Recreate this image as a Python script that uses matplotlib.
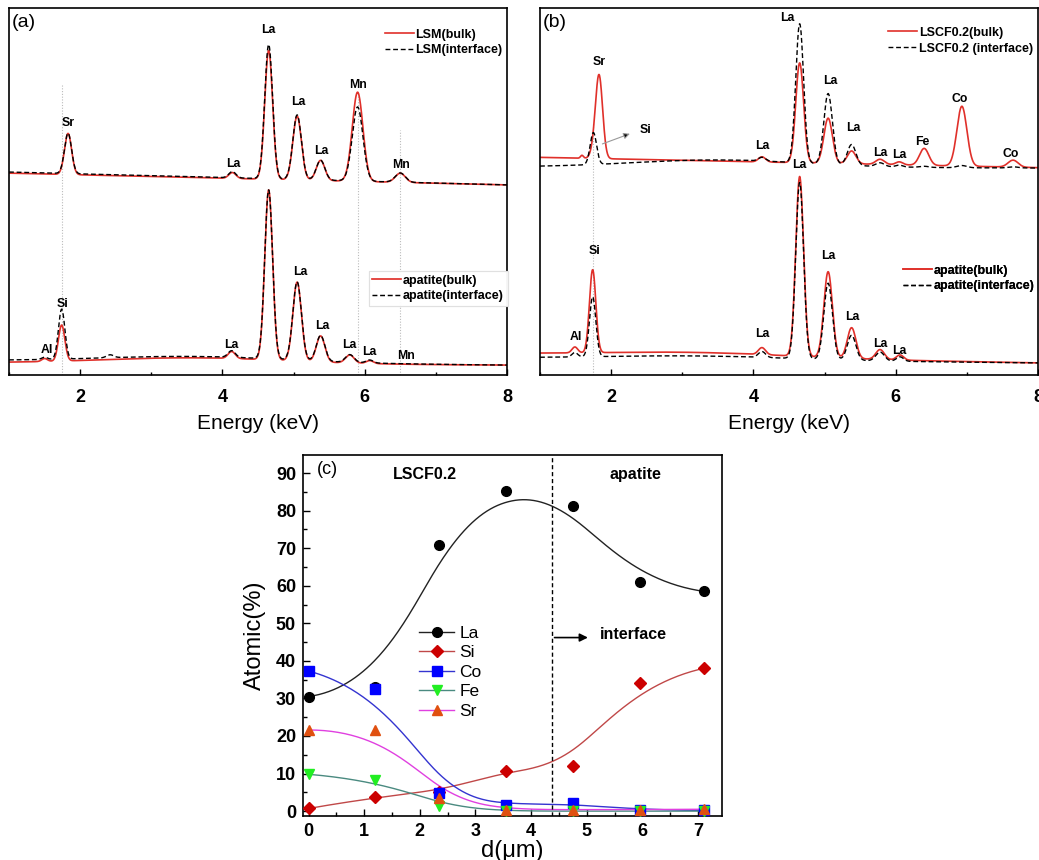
import numpy as np
import matplotlib
matplotlib.use("Agg")
import matplotlib.pyplot as plt
from matplotlib.lines import Line2D
from matplotlib.ticker import MultipleLocator

plt.rcParams['font.family'] = ['Liberation Sans', 'DejaVu Sans']

# ---------------- EDS spectra (a), (b) ----------------
# each trace: linear baseline (at 1 keV, at 8 keV) + peaks (energy keV, height, sigma)
a_top_E = [1.83, 4.14, 4.65, 5.05, 5.38, 5.90, 6.50]
a_top_sig = [0.05, 0.05, 0.055, 0.06, 0.06, 0.075, 0.07]
lsm_bulk_h = [11.2, 1.6, 35.1, 17.4, 5.5, 24.3, 2.5]
lsm_intf_h = [11.0, 1.7, 36.6, 17.6, 5.4, 20.2, 2.5]
lsm_bulk_base = [55.0, 51.8]
lsm_intf_base = [55.3, 51.8]

a_bot_E = [1.50, 1.74, 2.42, 3.60, 4.13, 4.65, 5.05, 5.38, 5.79, 6.07]
a_bot_sig = [0.04, 0.045, 0.05, 1.3, 0.05, 0.055, 0.06, 0.06, 0.06, 0.05]
apa_bulk_a_h = [0.8, 9.8, 0.0, 1.6, 1.9, 46.3, 21.5, 7.1, 2.2, 0.8]
apa_intf_a_h = [0.6, 13.6, 0.8, 1.6, 1.8, 46.0, 21.3, 7.0, 2.1, 0.8]
apa_bulk_a_base = [3.3, 2.7]
apa_intf_a_base = [3.9, 2.7]

b_top_E = [1.59, 1.75, 1.83, 3.50, 4.12, 4.65, 5.05, 5.38, 5.78, 6.05, 6.40, 6.93, 7.65]
b_top_sig = [0.02, 0.045, 0.05, 1.2, 0.05, 0.055, 0.06, 0.06, 0.06, 0.05, 0.065, 0.07, 0.07]
lscf_bulk_h = [0.8, 1.5, 22.6, 0.0, 1.4, 27.2, 12.3, 3.5, 1.4, 0.8, 4.6, 16.3, 1.9]
lscf_intf_h = [0.0, 8.7, 0.0, 2.0, 1.0, 37.9, 19.3, 5.7, 1.0, 0.5, 0.3, 0.6, 0.3]
lscf_bulk_base = [59.3, 56.5]
lscf_intf_base = [56.7, 56.4]

b_bot_E = [1.49, 1.74, 3.20, 4.12, 4.65, 5.05, 5.38, 5.78, 6.06]
b_bot_sig = [0.04, 0.045, 1.3, 0.05, 0.055, 0.06, 0.06, 0.06, 0.05]
apa_bulk_b_h = [1.6, 22.6, 1.2, 1.9, 49.0, 23.4, 8.4, 2.7, 1.4]
apa_intf_b_h = [1.2, 16.3, 1.0, 1.6, 48.0, 20.8, 6.8, 2.4, 1.2]
apa_bulk_b_base = [5.7, 3.3]
apa_intf_b_base = [4.6, 3.3]

# ---------------- depth profile (c) ----------------
d_um = [0, 1.2, 2.35, 3.55, 4.75, 5.95, 7.1]
La = [30.5, 33.0, 70.8, 85.3, 81.2, 61.0, 58.5]
Si = [0.7, 3.8, 5.0, 10.8, 12.1, 34.2, 38.0]
Co = [37.3, 32.5, 4.7, 1.6, 2.1, 0.3, 0.2]
Fe = [9.8, 8.3, 1.4, 0.0, 0.0, 0.0, 0.0]
Sr = [21.6, 21.6, 3.6, 0.4, 0.4, 0.4, 0.5]

RED = '#e0302a'
E = np.linspace(1, 8, 2000)


def spectrum(base, centers, heights, sigmas):
    y = base[0] + (base[1] - base[0]) * (E - 1) / 7.0
    for c, h, s in zip(centers, heights, sigmas):
        y = y + h * np.exp(-0.5 * ((E - c) / s) ** 2)
    return y


def bspline(px, py, n=300, k=3):
    # clamped cubic B-spline with the data points as control points
    m = len(px)
    kn = np.concatenate([np.zeros(k), np.linspace(0, 1, m - k + 1), np.ones(k)])
    t = np.linspace(0, 1, n)
    B = np.zeros((n, len(kn) - 1))
    for i in range(len(kn) - 1):
        B[:, i] = (kn[i] <= t) & (t < kn[i + 1])
    B[-1, m - 1] = 1
    for d in range(1, k + 1):
        Bn = np.zeros((n, len(kn) - 1 - d))
        for i in range(len(kn) - 1 - d):
            if kn[i + d] > kn[i]:
                Bn[:, i] += (t - kn[i]) / (kn[i + d] - kn[i]) * B[:, i]
            if kn[i + d + 1] > kn[i + 1]:
                Bn[:, i] += (kn[i + d + 1] - t) / (kn[i + d + 1] - kn[i + 1]) * B[:, i + 1]
        B = Bn
    return B @ np.asarray(px, float), B @ np.asarray(py, float)


fig = plt.figure(figsize=(10.39, 8.6), dpi=100)
W, H = 1039.0, 860.0
ax_a = fig.add_axes([9 / W, 1 - 375 / H, 498 / W, 367 / H])
ax_b = fig.add_axes([540 / W, 1 - 375 / H, 498 / W, 367 / H])
ax_c = fig.add_axes([303 / W, 1 - 816 / H, 419 / W, 361 / H])


def style_spec(ax):
    ax.set_xlim(1, 8)
    ax.set_ylim(0, 100)
    ax.set_yticks([])
    ax.xaxis.set_major_locator(MultipleLocator(2))
    ax.xaxis.set_minor_locator(MultipleLocator(1))
    ax.tick_params(axis='x', which='both', direction='in', top=False)
    ax.tick_params(axis='x', which='major', length=4, width=1, labelsize=13, pad=10)
    ax.tick_params(axis='x', which='minor', length=2.5, width=1)
    for lab in ax.get_xticklabels():
        lab.set_fontweight('bold')
    for s in ax.spines.values():
        s.set_linewidth(1.2)
    ax.set_xlabel('Energy (keV)', fontsize=15, labelpad=6)


def two_traces(ax, y_bulk, y_intf, lab_bulk, lab_intf):
    l1, = ax.plot(E, y_bulk, color=RED, lw=1.2, label=lab_bulk)
    l2, = ax.plot(E, y_intf, color='black', lw=1.0, ls=(0, (3.5, 2)), label=lab_intf)
    return [l1, l2]


def labels(ax, items):
    for txt, x, y in items:
        ax.text(x, y, txt, fontsize=8.8, fontweight='bold', ha='center', va='center')


def spec_legend(ax, handles, x, y, frame=False, hl=2.3):
    leg = ax.legend(handles=handles, loc='center left', bbox_to_anchor=(x, y),
                    frameon=frame, handlelength=hl, handletextpad=0.15,
                    labelspacing=0.3, borderpad=0.3 if frame else 0, borderaxespad=0,
                    fancybox=False, prop={'weight': 'bold', 'size': 9})
    if frame:
        leg.get_frame().set_edgecolor('#dddddd')
        leg.get_frame().set_linewidth(0.8)
    ax.add_artist(leg)


# ---- panel (a)
for xv, ytop in [(1.74, 79), (5.90, 77), (6.50, 66.8)]:
    ax_a.plot([xv, xv], [0, ytop], color='#bbbbbb', lw=0.8, ls=(0, (1, 1.5)))
h = two_traces(ax_a, spectrum(lsm_bulk_base, a_top_E, lsm_bulk_h, a_top_sig),
               spectrum(lsm_intf_base, a_top_E, lsm_intf_h, a_top_sig),
               'LSM(bulk)', 'LSM(interface)')
spec_legend(ax_a, h, 0.755, 0.906)
h = two_traces(ax_a, spectrum(apa_bulk_a_base, a_bot_E, apa_bulk_a_h, a_bot_sig),
               spectrum(apa_intf_a_base, a_bot_E, apa_intf_a_h, a_bot_sig),
               'apatite(bulk)', 'apatite(interface)')
spec_legend(ax_a, h, 0.722, 0.236, frame=True)
labels(ax_a, [('Sr', 1.83, 68.7), ('La', 4.15, 57.5), ('La', 4.65, 94.0), ('La', 5.06, 74.4),
              ('La', 5.39, 61.0), ('Mn', 5.91, 79.0), ('Mn', 6.51, 57.2),
              ('Al', 1.53, 6.8), ('Si', 1.75, 19.3), ('La', 4.13, 8.2), ('La', 5.09, 28.1),
              ('La', 5.40, 13.4), ('La', 5.79, 8.2), ('La', 6.07, 6.3), ('Mn', 6.58, 5.2)])
ax_a.text(0.005, 0.96, '(a)', transform=ax_a.transAxes, fontsize=14, va='center', ha='left')
style_spec(ax_a)

# ---- panel (b)
ax_b.plot([1.74, 1.74], [0, 68.7], color='#bbbbbb', lw=0.8, ls=(0, (1, 1.5)))
h = two_traces(ax_b, spectrum(lscf_bulk_base, b_top_E, lscf_bulk_h, b_top_sig),
               spectrum(lscf_intf_base, b_top_E, lscf_intf_h, b_top_sig),
               'LSCF0.2(bulk)', 'LSCF0.2 (interface)')
spec_legend(ax_b, h, 0.699, 0.911)
h = two_traces(ax_b, spectrum(apa_bulk_b_base, b_bot_E, apa_bulk_b_h, b_bot_sig),
               spectrum(apa_intf_b_base, b_bot_E, apa_intf_b_h, b_bot_sig),
               'apatite(bulk)', 'apatite(interface)')
spec_legend(ax_b, h, 0.729, 0.263)
labels(ax_b, [('Sr', 1.83, 85.3), ('Si', 2.48, 66.8), ('La', 4.47, 97.3), ('La', 5.08, 80.1),
              ('La', 5.40, 67.3), ('La', 4.12, 62.4), ('La', 5.78, 60.5), ('La', 6.05, 59.9),
              ('Fe', 6.38, 63.5), ('Co', 6.90, 75.2), ('Co', 7.61, 60.2),
              ('La', 4.64, 57.2), ('Al', 1.51, 10.4), ('Si', 1.77, 33.8), ('La', 4.12, 11.2),
              ('La', 5.05, 32.4), ('La', 5.39, 15.8), ('La', 5.78, 8.4), ('La', 6.05, 6.5)])
ax_b.annotate('', xy=(2.30, 66.0), xytext=(1.84, 62.7),
              arrowprops=dict(arrowstyle='-|>', color='#999999', lw=0.8,
                              mutation_scale=9, fc='black', ec='#999999'))
ax_b.text(0.005, 0.96, '(b)', transform=ax_b.transAxes, fontsize=14, va='center', ha='left')
style_spec(ax_b)

# ---- panel (c)
series = [
    ('La', La, 'o', 'black', 'black', '#222222', 7),
    ('Si', Si, 'D', '#cc0000', '#cc0000', '#c04848', 6),
    ('Co', Co, 's', '#0000ff', '#0000ff', '#3434d0', 6.5),
    ('Fe', Fe, 'v', '#22ee22', '#22ee22', '#4a8a80', 7),
    ('Sr', Sr, '^', '#e05010', '#e05010', '#e040e0', 7),
]
handles = []
for name, vals, mk, fc, ec, lc, ms in series:
    sx, sy = bspline(d_um, vals)
    ax_c.plot(sx, sy, color=lc, lw=1.0, zorder=2)
    ax_c.plot(d_um, vals, ls='none', marker=mk, mfc=fc, mec=ec, ms=ms, zorder=3)
    handles.append(Line2D([], [], color=lc, lw=1.0, marker=mk, mfc=fc, mec=ec, ms=ms, label=name))

ax_c.set_xlim(-0.1, 7.43)
ax_c.set_ylim(-1.3, 94.8)
ax_c.axvline(4.37, color='black', lw=1.0, ls=(0, (3, 2)))
ax_c.annotate('', xy=(5.07, 46.2), xytext=(4.37, 46.2),
              arrowprops=dict(arrowstyle='-|>', color='black', lw=1.2, mutation_scale=12))
ax_c.text(5.23, 47.0, 'interface', fontsize=11.5, fontweight='bold', va='center', ha='left')
ax_c.text(2.09, 89.6, 'LSCF0.2', fontsize=11.5, fontweight='bold', va='center', ha='center')
ax_c.text(5.88, 89.6, 'apatite', fontsize=11.5, fontweight='bold', va='center', ha='center')
ax_c.text(0.15, 91.0, '(c)', fontsize=13, va='center', ha='left')
leg = ax_c.legend(handles=handles, loc='center left', bbox_to_anchor=(0.278, 0.3985),
                  frameon=False, fontsize=12.5, handlelength=2.0, handletextpad=0.3,
                  labelspacing=0.25, borderpad=0, borderaxespad=0)

ax_c.xaxis.set_major_locator(MultipleLocator(1))
ax_c.xaxis.set_minor_locator(MultipleLocator(0.5))
ax_c.yaxis.set_major_locator(MultipleLocator(10))
ax_c.yaxis.set_minor_locator(MultipleLocator(5))
ax_c.tick_params(which='both', direction='in', top=False, right=False)
ax_c.tick_params(which='major', length=5, width=1, labelsize=13, pad=5)
ax_c.tick_params(which='minor', length=3, width=1)
for lab in ax_c.get_xticklabels() + ax_c.get_yticklabels():
    lab.set_fontweight('bold')
for s in ax_c.spines.values():
    s.set_linewidth(1.2)
ax_c.set_ylabel('Atomic(%)', fontsize=17, labelpad=7)
ax_c.set_xlabel('d(\u03bcm)', fontsize=17, labelpad=0)

fig.savefig('out.png', dpi=100)
